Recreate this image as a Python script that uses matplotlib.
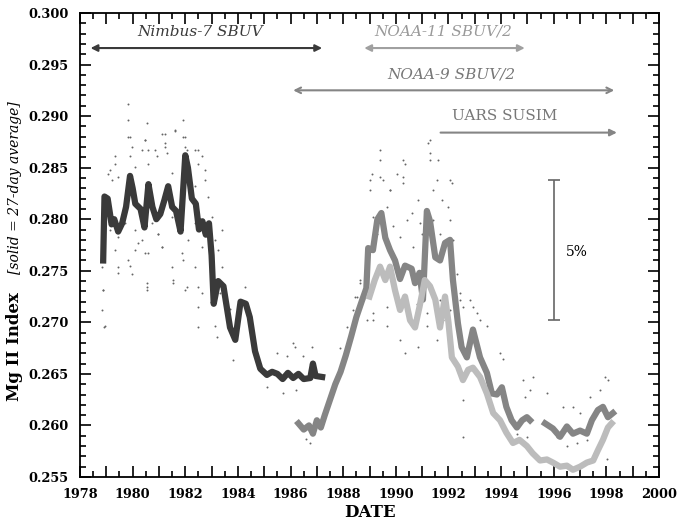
import numpy as np
import matplotlib.pyplot as plt
from matplotlib.ticker import MultipleLocator, FuncFormatter

# Nimbus-7 SBUV, 27-day average
n7_year = [1978.88, 1978.93, 1979.05, 1979.2, 1979.3, 1979.45, 1979.6, 1979.75, 1979.9, 1980.0,
           1980.1, 1980.3, 1980.45, 1980.6, 1980.75, 1980.9, 1981.05, 1981.2, 1981.35, 1981.5,
           1981.65, 1981.82, 1982.0, 1982.1, 1982.25, 1982.4, 1982.52, 1982.65, 1982.78, 1982.9,
           1983.0, 1983.08, 1983.25, 1983.45, 1983.7, 1983.9, 1984.1, 1984.3, 1984.45, 1984.65,
           1984.85, 1985.1, 1985.3, 1985.5, 1985.7, 1985.9, 1986.1, 1986.3, 1986.5, 1986.75,
           1986.85, 1986.95, 1987.2]
n7_val = [0.2760, 0.2822, 0.2820, 0.2795, 0.2800, 0.2788, 0.2796, 0.2812, 0.2842, 0.2830,
          0.2815, 0.2810, 0.2792, 0.2834, 0.2812, 0.2800, 0.2805, 0.2818, 0.2832, 0.2812,
          0.2808, 0.2788, 0.2862, 0.2850, 0.2820, 0.2815, 0.2790, 0.2798, 0.2785, 0.2796,
          0.2765, 0.2718, 0.2740, 0.2735, 0.2695, 0.2683, 0.2720, 0.2718, 0.2705, 0.2672,
          0.2655, 0.2649, 0.2652, 0.2650, 0.2645, 0.2651, 0.2646, 0.2650, 0.2645, 0.2646,
          0.2660, 0.2648, 0.2647]

# NOAA-9 SBUV/2, 27-day average (gap in 1995)
n9_year = [1986.3, 1986.5, 1986.7, 1986.85, 1987.0, 1987.15, 1987.3, 1987.5, 1987.7, 1987.9,
           1988.1, 1988.3, 1988.5, 1988.7, 1988.88, 1988.95, 1989.13, 1989.3, 1989.45, 1989.6,
           1989.78, 1989.97, 1990.16, 1990.35, 1990.6, 1990.73, 1990.9, 1991.03, 1991.18, 1991.3,
           1991.5, 1991.68, 1991.87, 1992.06, 1992.17, 1992.36, 1992.5, 1992.7, 1992.93, 1993.2,
           1993.46, 1993.65, 1993.84, 1994.03, 1994.2, 1994.4, 1994.6, 1994.8, 1994.98, 1995.1,
           1995.3, 1995.67, 1995.97, 1996.24, 1996.5, 1996.73, 1997.0, 1997.26, 1997.45, 1997.68,
           1997.87, 1998.06, 1998.25]
n9_val = [0.2602, 0.2596, 0.2600, 0.2592, 0.2605, 0.2598, 0.2610, 0.2625, 0.2640, 0.2652,
          0.2668, 0.2686, 0.2705, 0.2720, 0.2733, 0.2772, 0.2770, 0.2800, 0.2806, 0.2782,
          0.2770, 0.2760, 0.2742, 0.2755, 0.2752, 0.2738, 0.2748, 0.2722, 0.2808, 0.2798,
          0.2763, 0.2760, 0.2777, 0.2780, 0.2741, 0.2699, 0.2676, 0.2666, 0.2693, 0.2666,
          0.2651, 0.2631, 0.2630, 0.2637, 0.2618, 0.2605, 0.2598, 0.2605, 0.2608, 0.2605,
          np.nan, 0.2602, 0.2597, 0.2589, 0.2599, 0.2592, 0.2595, 0.2592, 0.2605, 0.2615,
          0.2618, 0.2608, 0.2612]

# NOAA-11 SBUV/2, 27-day average
n11_year = [1989.0, 1989.2, 1989.4, 1989.6, 1989.78, 1989.97, 1990.16, 1990.35, 1990.54, 1990.73,
            1990.9, 1991.1, 1991.3, 1991.5, 1991.68, 1991.87, 1992.0, 1992.13, 1992.36, 1992.55,
            1992.75, 1992.93, 1993.2, 1993.46, 1993.7, 1993.96, 1994.2, 1994.45, 1994.7, 1994.98,
            1995.2, 1995.48, 1995.74, 1995.97, 1996.24, 1996.5, 1996.73, 1997.0, 1997.26, 1997.5,
            1997.68, 1997.87, 1998.06, 1998.2]
n11_val = [0.2725, 0.2741, 0.2754, 0.2741, 0.2754, 0.2731, 0.2712, 0.2725, 0.2702, 0.2695,
           0.2715, 0.2741, 0.2735, 0.2722, 0.2695, 0.2725, 0.2700, 0.2666, 0.2657, 0.2644,
           0.2654, 0.2656, 0.2647, 0.2631, 0.2612, 0.2605, 0.2593, 0.2583, 0.2586, 0.2580,
           0.2573, 0.2566, 0.2567, 0.2564, 0.2560, 0.2561, 0.2557, 0.2560, 0.2564, 0.2566,
           0.2576, 0.2586, 0.2598, 0.2602]

# daily values (scattered dots)
dot_year = [1979.84, 1979.96, 1979.90, 1979.08, 1979.33, 1980.47, 1980.60, 1981.10, 1981.23, 1981.29,
            1981.93, 1981.99, 1981.61, 1982.37, 1982.50, 1982.75, 1982.88, 1983.00, 1979.20, 1978.95,
            1978.82, 1979.14, 1979.46, 1979.71, 1980.09, 1980.34, 1980.72, 1980.98, 1981.48, 1981.74,
            1982.12, 1982.37, 1982.62, 1983.13, 1978.82, 1983.38, 1980.09, 1980.60, 1981.10, 1981.86,
            1978.87, 1978.90, 1979.46, 1979.90, 1980.53, 1981.55, 1982.05, 1982.50, 1983.20, 1983.83,
            1984.27, 1983.70, 1983.32, 1985.48, 1985.86, 1986.17, 1986.48, 1986.80, 1986.10, 1985.70,
            1985.10, 1986.20, 1986.74, 1986.60, 1988.45, 1988.64, 1988.14, 1987.88, 1988.90, 1989.02,
            1989.08, 1989.40, 1989.52, 1989.78, 1990.03, 1990.28, 1990.35, 1990.60, 1990.85, 1990.92,
            1991.23, 1991.30, 1991.42, 1991.55, 1991.74, 1991.99, 1992.12, 1992.12, 1992.31, 1992.56,
            1992.82, 1993.07, 1989.14, 1989.65, 1990.16, 1990.35, 1990.85, 1991.17, 1991.55, 1991.80,
            1992.56, 1992.44, 1992.94, 1993.20, 1993.45, 1992.82, 1993.96, 1994.08, 1994.84, 1995.10,
            1994.91, 1995.22, 1995.73, 1996.36, 1996.74, 1996.99, 1997.38, 1997.76, 1997.95, 1998.07,
            1992.56, 1993.58, 1994.21, 1994.59, 1994.97, 1996.11, 1996.49, 1996.87, 1997.25, 1998.01,
            1979.84, 1979.84, 1979.90, 1980.53, 1980.47, 1980.34, 1981.23, 1981.23, 1981.61, 1981.93,
            1981.99, 1982.05, 1980.85, 1980.91, 1982.50, 1982.62, 1982.75, 1979.33, 1979.14, 1979.46,
            1980.09, 1980.60, 1981.48, 1982.12, 1982.37,
            1978.82, 1978.89, 1978.82, 1978.95, 1979.33, 1979.46, 1979.84, 1979.96, 1980.22, 1980.47,
            1980.53, 1980.53, 1980.98, 1981.10, 1981.48, 1981.55, 1981.93, 1981.99, 1982.37, 1982.50,
            1982.62, 1982.50, 1983.26, 1983.38, 1983.13,
            1989.14, 1989.27, 1989.65, 1989.90, 1990.16, 1990.41, 1990.66, 1990.98, 1991.42, 1991.68,
            1992.06, 1992.18, 1988.51, 1988.64, 1988.38, 1989.14, 1989.65, 1990.41, 1990.79, 1991.17,
            1991.68, 1992.06, 1992.44,
            1989.40, 1989.40, 1990.28, 1990.28, 1991.30, 1991.30, 1991.61, 1992.06, 1989.02, 1989.78]
dot_val = [0.2880, 0.2870, 0.2861, 0.2844, 0.2854, 0.2877, 0.2867, 0.2883, 0.2874, 0.2864,
           0.2880, 0.2870, 0.2887, 0.2867, 0.2854, 0.2838, 0.2822, 0.2802, 0.2838, 0.2822,
           0.2806, 0.2790, 0.2783, 0.2796, 0.2790, 0.2780, 0.2796, 0.2786, 0.2802, 0.2790,
           0.2780, 0.2796, 0.2773, 0.2780, 0.2780, 0.2790, 0.2770, 0.2767, 0.2773, 0.2767,
           0.2731, 0.2695, 0.2748, 0.2755, 0.2734, 0.2741, 0.2734, 0.2695, 0.2686, 0.2663,
           0.2734, 0.2713, 0.2728, 0.2670, 0.2667, 0.2676, 0.2667, 0.2676, 0.2680, 0.2631,
           0.2637, 0.2634, 0.2583, 0.2587, 0.2725, 0.2741, 0.2695, 0.2675, 0.2702, 0.2828,
           0.2844, 0.2857, 0.2838, 0.2828, 0.2844, 0.2835, 0.2854, 0.2806, 0.2819, 0.2796,
           0.2874, 0.2857, 0.2828, 0.2838, 0.2819, 0.2812, 0.2835, 0.2780, 0.2747, 0.2715,
           0.2722, 0.2709, 0.2702, 0.2696, 0.2683, 0.2670, 0.2676, 0.2696, 0.2683, 0.2702,
           0.2625, 0.2722, 0.2715, 0.2702, 0.2696, 0.2689, 0.2670, 0.2664, 0.2644, 0.2634,
           0.2628, 0.2647, 0.2631, 0.2618, 0.2618, 0.2612, 0.2628, 0.2634, 0.2647, 0.2644,
           0.2589, 0.2638, 0.2612, 0.2592, 0.2589, 0.2589, 0.2580, 0.2583, 0.2586, 0.2567,
           0.2912, 0.2896, 0.2880, 0.2893, 0.2877, 0.2867, 0.2883, 0.2870, 0.2886, 0.2896,
           0.2880, 0.2867, 0.2867, 0.2861, 0.2867, 0.2861, 0.2848, 0.2861, 0.2848, 0.2841,
           0.2851, 0.2854, 0.2845, 0.2838, 0.2832,
           0.2754, 0.2731, 0.2712, 0.2696, 0.2770, 0.2754, 0.2760, 0.2747, 0.2777, 0.2767,
           0.2738, 0.2731, 0.2786, 0.2773, 0.2754, 0.2738, 0.2760, 0.2731, 0.2754, 0.2734,
           0.2728, 0.2715, 0.2770, 0.2754, 0.2696,
           0.2802, 0.2786, 0.2812, 0.2793, 0.2783, 0.2799, 0.2773, 0.2786, 0.2799, 0.2786,
           0.2799, 0.2780, 0.2725, 0.2738, 0.2712, 0.2709, 0.2715, 0.2712, 0.2718, 0.2709,
           0.2722, 0.2712, 0.2728,
           0.2867, 0.2841, 0.2857, 0.2841, 0.2877, 0.2864, 0.2857, 0.2838, 0.2838, 0.2828]

plt.rcParams['font.family'] = 'DejaVu Serif'

fig = plt.figure(figsize=(6.77, 5.28), dpi=100)
ax = fig.add_axes([0.1182, 0.0966, 0.8552, 0.8788])

ax.scatter(dot_year, dot_val, s=2, color='#666666', zorder=1, linewidths=0)
ax.plot(n7_year, n7_val, color='#3a3a3a', lw=4.5, zorder=3)
ax.plot(n9_year, n9_val, color='#858585', lw=4.5, zorder=2)
ax.plot(n11_year, n11_val, color='#bcbcbc', lw=4.5, zorder=2)

# instrument coverage arrows
ax.annotate('', xy=(1987.2, 0.2966), xytext=(1978.4, 0.2966),
            arrowprops=dict(arrowstyle='<|-|>', color='#3a3a3a', lw=1.5, shrinkA=0, shrinkB=0))
ax.text(1982.55, 0.2975, 'Nimbus-7 SBUV', style='italic', fontsize=11, color='#3a3a3a',
        ha='center', va='bottom')
ax.annotate('', xy=(1994.9, 0.2966), xytext=(1988.8, 0.2966),
            arrowprops=dict(arrowstyle='<|-|>', color='#a0a0a0', lw=1.5, shrinkA=0, shrinkB=0))
ax.text(1991.8, 0.2975, 'NOAA-11 SBUV/2', style='italic', fontsize=11, color='#999999',
        ha='center', va='bottom')
ax.annotate('', xy=(1998.3, 0.2925), xytext=(1986.1, 0.2925),
            arrowprops=dict(arrowstyle='<->', color='#858585', lw=1.5, shrinkA=0, shrinkB=0))
ax.text(1992.1, 0.2934, 'NOAA-9 SBUV/2', style='italic', fontsize=11, color='#777777',
        ha='center', va='bottom')
ax.annotate('', xy=(1998.4, 0.2884), xytext=(1991.7, 0.2884),
            arrowprops=dict(arrowstyle='-|>', color='#858585', lw=1.5, shrinkA=0, shrinkB=0))
ax.text(1992.15, 0.2893, 'UARS SUSIM', fontsize=11, color='#777777', ha='left', va='bottom')

# 5% scale bar
ax.errorbar([1996.0], [0.2770], yerr=[[0.0068], [0.0068]], color='#666666', lw=1.2,
            capsize=4, capthick=1.2)
ax.text(1996.45, 0.2768, '5%', fontsize=10, ha='left', va='center')

ax.set_xlim(1978, 2000)
ax.set_ylim(0.255, 0.300)
ax.xaxis.set_major_locator(MultipleLocator(1))
ax.xaxis.set_minor_locator(MultipleLocator(0.5))
ax.xaxis.set_major_formatter(FuncFormatter(lambda v, p: '%d' % v if int(round(v)) % 2 == 0 else ''))
ax.yaxis.set_major_locator(MultipleLocator(0.005))
ax.yaxis.set_minor_locator(MultipleLocator(0.001))
ax.yaxis.set_major_formatter(FuncFormatter(lambda v, p: '%.3f' % v))
ax.tick_params(which='both', direction='in', top=True, right=True, width=1.2)
ax.tick_params(which='major', length=8, labelsize=9.3, pad=8)
ax.tick_params(which='minor', length=4)
for lab in ax.get_xticklabels() + ax.get_yticklabels():
    lab.set_fontweight('bold')
for sp in ax.spines.values():
    sp.set_linewidth(1.3)

ax.set_xlabel('DATE', fontsize=12, fontweight='bold', labelpad=2)
fig.text(0.022, 0.343, 'Mg II Index', rotation=90, fontsize=12, fontweight='bold',
         ha='center', va='center')
fig.text(0.022, 0.644, '[solid = 27-day average]', rotation=90, fontsize=10, style='italic',
         ha='center', va='center')

fig.savefig('out.png', dpi=100)
